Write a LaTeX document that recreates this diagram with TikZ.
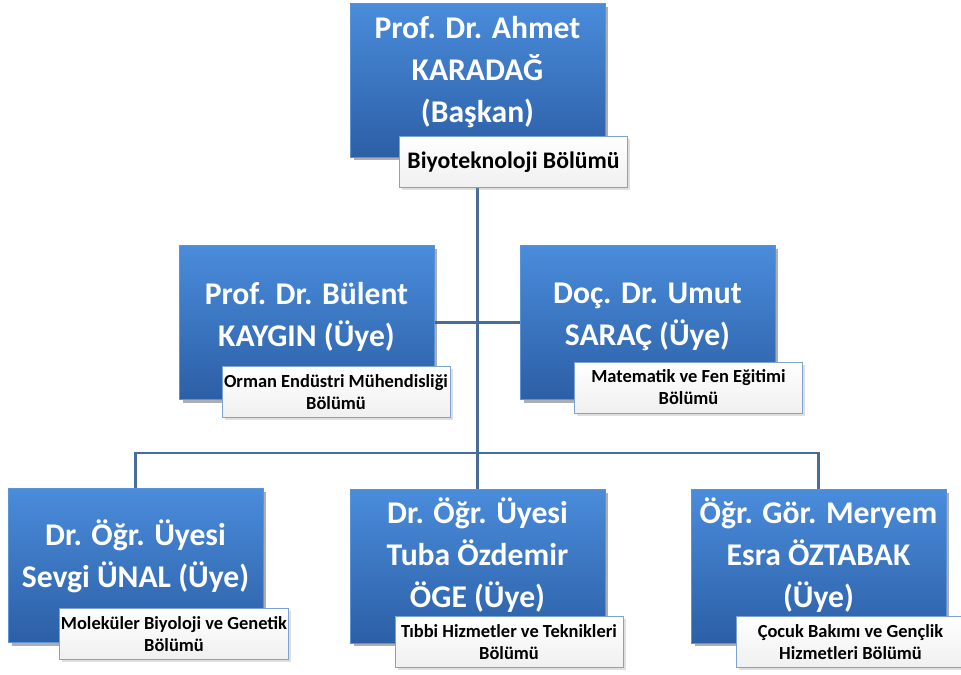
\documentclass[tikz,border=0pt]{standalone}
\usepackage{fontspec}
\setmainfont{Carlito}
\usetikzlibrary{positioning,calc,shadows,backgrounds}
\definecolor{BoxTop}{HTML}{4A8CDB}
\definecolor{BoxBot}{HTML}{2C5FA6}
\definecolor{BoxEdge}{HTML}{5A94D6}
\definecolor{DeptEdge}{HTML}{7FA3CF}
\definecolor{Wire}{HTML}{4A6C98}
\tikzset{
personbox/.style={rectangle, draw=BoxEdge, thin, top color=BoxTop, bottom color=BoxBot,
  minimum width=5.1cm, minimum height=3.08cm, inner sep=0pt,
  drop shadow={shadow xshift=2pt, shadow yshift=-2pt, opacity=0.45, fill=black!70}},
persontext/.style={text=white, font=\bfseries\fontsize{18}{24}\selectfont, align=center, inner sep=0pt},
deptbox/.style={rectangle, draw=DeptEdge, top color=white, bottom color=black!6,
  minimum width=4.56cm, minimum height=1.02cm, inner sep=1pt, align=center,
  font=\bfseries\fontsize{10.5}{12.5}\selectfont,
  drop shadow={shadow xshift=1.5pt, shadow yshift=-1.5pt, opacity=0.25}},
deptbig/.style={deptbox, font=\bfseries\fontsize{13.5}{15}\selectfont},
wire/.style={draw=Wire, line width=1.4pt}
}
\begin{document}
\begin{tikzpicture}[x=0.02cm, y=-0.02cm]
  \useasboundingbox (0,0) rectangle (961,675);
  % chair
  \node[personbox] (baskan) at (477.5,80) {};
  \node[persontext] (baskant) at ([yshift=0.16cm]baskan.center) {Prof. Dr. Ahmet\\KARADAĞ\\(Başkan)};
  \node[deptbig] (baskand) at (513.5,162) {Biyoteknoloji Bölümü};
  % second row
  \node[personbox] (uyea) at (306.5,322.5) {};
  \node[persontext] (uyeat) at ([yshift=0.12cm]uyea.center) {Prof. Dr. Bülent\\KAYGIN (Üye)};
  \node[deptbox] (uyead) at (336,392) {Orman Endüstri Mühendisliği\\Bölümü};
  \node[personbox] (uyeb) at (647.5,322.5) {};
  \node[persontext] (uyebt) at ([yshift=0.12cm]uyeb.center) {Doç. Dr. Umut\\SARAÇ (Üye)};
  \node[deptbox] (uyebd) at (688.5,387.5) {Matematik ve Fen Eğitimi\\Bölümü};
  % third row
  \node[personbox] (uyec) at (135.5,565.5) {};
  \node[persontext] (uyect) at ([yshift=0.18cm]uyec.center) {Dr. Öğr. Üyesi\\Sevgi ÜNAL (Üye)};
  \node[deptbox] (uyecd) at (174,634) {Moleküler Biyoloji ve Genetik\\Bölümü};
  \node[personbox] (uyed) at (477.5,566) {};
  \node[persontext] (uyedt) at ([yshift=0.22cm]uyed.center) {Dr. Öğr. Üyesi\\Tuba Özdemir\\ÖGE (Üye)};
  \node[deptbox] (uyedd) at (509,642) {Tıbbi Hizmetler ve Teknikleri\\Bölümü};
  \node[personbox] (uyee) at (818.5,566) {};
  \node[persontext] (uyeet) at ([yshift=0.22cm]uyee.center) {Öğr. Gör. Meryem\\Esra ÖZTABAK\\(Üye)};
  \node[deptbox] (uyeed) at (850.5,642) {Çocuk Bakımı ve Gençlik\\Hizmetleri Bölümü};
  % connectors
  \coordinate (bus) at (477,453);
  \begin{scope}[on background layer]
    \draw[wire] (baskan.south) -- (baskan.south |- bus);
    \draw[wire] (uyea.east) -- (uyeb.west);
    \draw[wire] (uyec.north) -- (uyec.north |- bus) -- (uyee.north |- bus) -- (uyee.north);
    \draw[wire] (uyed.north |- bus) -- (uyed.north);
  \end{scope}
\end{tikzpicture}
\end{document}
